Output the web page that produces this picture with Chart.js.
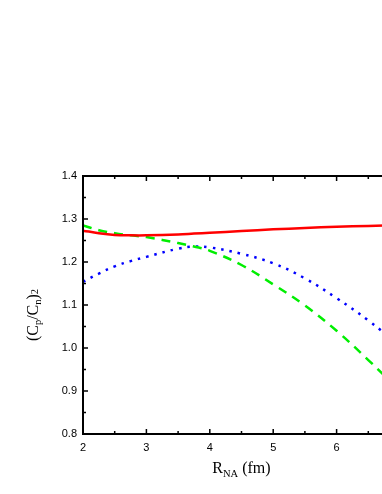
<!DOCTYPE html>
<html lang="en">

<head>
    <meta charset="UTF-8">
    <title>(Cp/Cn)^2 vs R_NA</title>
    <script src="https://cdn.jsdelivr.net/npm/chart.js"></script>
    <style>
        html, body { margin: 0; padding: 0; background: #fff; overflow: hidden; }
        canvas { display: block; }
    </style>
</head>

<body>
    <canvas id="ratioChart" width="420" height="494"></canvas>

    <script>
        // R_NA (fm)
        const rValues = [2.0, 2.25, 2.5, 2.75, 3.0, 3.5, 3.75, 4.0, 4.5, 5.0, 5.5, 6.0, 6.5, 7.0];
        // (Cp/Cn)^2 for the three curves
        const redValues   = [1.273, 1.267, 1.263, 1.262, 1.262, 1.264, 1.266, 1.268, 1.272, 1.276, 1.279, 1.282, 1.284, 1.286];
        const greenValues = [1.285, 1.274, 1.267, 1.262, 1.258, 1.244, 1.236, 1.226, 1.193, 1.148, 1.099, 1.040, 0.972, 0.900];
        const blueValues  = [1.154, 1.173, 1.190, 1.202, 1.212, 1.231, 1.236, 1.234, 1.219, 1.197, 1.162, 1.116, 1.064, 1.005];

        const xTicks = [2, 3, 4, 5, 6, 7];
        const yTicks = [0.8, 0.9, 1.0, 1.1, 1.2, 1.3, 1.4];

        function points(ys) {
            return rValues.map((x, i) => ({ x: x, y: ys[i] }));
        }

        // inward ticks on all four sides + top/right frame
        const frame = {
            id: 'frame',
            afterDraw(chart) {
                const { ctx, chartArea: a, scales: { x, y } } = chart;
                ctx.save();
                ctx.strokeStyle = '#000';
                ctx.lineWidth = 2;
                ctx.beginPath();
                ctx.moveTo(a.left, a.bottom);
                ctx.lineTo(a.left, a.top);
                ctx.lineTo(a.right, a.top);
                ctx.lineTo(a.right, a.bottom);
                ctx.lineTo(a.left, a.bottom);
                ctx.stroke();

                ctx.lineWidth = 1.5;
                ctx.beginPath();
                for (let i = 0; i < xTicks.length; i++) {
                    const v = xTicks[i];
                    let px = x.getPixelForValue(v);
                    ctx.moveTo(px, a.bottom); ctx.lineTo(px, a.bottom - 5);
                    ctx.moveTo(px, a.top); ctx.lineTo(px, a.top + 5);
                    if (i < xTicks.length - 1) {
                        px = x.getPixelForValue(v + 0.5);
                        ctx.moveTo(px, a.bottom); ctx.lineTo(px, a.bottom - 3);
                        ctx.moveTo(px, a.top); ctx.lineTo(px, a.top + 3);
                    }
                }
                for (let i = 0; i < yTicks.length; i++) {
                    const v = yTicks[i];
                    let py = y.getPixelForValue(v);
                    ctx.moveTo(a.left, py); ctx.lineTo(a.left + 5, py);
                    ctx.moveTo(a.right, py); ctx.lineTo(a.right - 5, py);
                    if (i < yTicks.length - 1) {
                        py = y.getPixelForValue(v + 0.05);
                        ctx.moveTo(a.left, py); ctx.lineTo(a.left + 3, py);
                        ctx.moveTo(a.right, py); ctx.lineTo(a.right - 3, py);
                    }
                }
                ctx.stroke();
                ctx.restore();
            }
        };

        // axis titles with sub/superscripts
        const axisTitles = {
            id: 'axisTitles',
            afterDraw(chart) {
                const { ctx, chartArea: a } = chart;
                const big = '16px "Liberation Serif", "Times New Roman", serif';
                const small = '10.5px "Liberation Serif", "Times New Roman", serif';
                ctx.save();
                ctx.fillStyle = '#000';
                ctx.textBaseline = 'alphabetic';
                ctx.textAlign = 'left';

                // parts: [text, font, baseline offset]
                function run(parts) {
                    let w = 0;
                    parts.forEach(p => { ctx.font = p[1]; w += ctx.measureText(p[0]).width; });
                    let cx = -w / 2;
                    parts.forEach(p => {
                        ctx.font = p[1];
                        ctx.fillText(p[0], cx, p[2]);
                        cx += ctx.measureText(p[0]).width;
                    });
                }

                ctx.save();
                ctx.translate((a.left + a.right) / 2, 473);
                run([['R', big, 0], ['NA', small, 4], [' (fm)', big, 0]]);
                ctx.restore();

                ctx.save();
                ctx.translate(38, (a.top + a.bottom) / 2 + 10);
                ctx.rotate(-Math.PI / 2);
                run([['(C', big, 0], ['p', small, 3], ['/C', big, 0], ['n', small, 3], [')', big, 0], ['2', small, 0]]);
                ctx.restore();

                ctx.restore();
            }
        };

        const tickFont = { family: '"Liberation Sans", Arial, sans-serif', size: 11 };

        new Chart(document.getElementById('ratioChart').getContext('2d'), {
            type: 'line',
            data: {
                datasets: [
                    {
                        data: points(redValues),
                        borderColor: '#ff0000',
                        borderWidth: 2.5,
                        pointRadius: 0,
                        tension: 0.4,
                        fill: false
                    },
                    {
                        data: points(greenValues),
                        borderColor: '#00ee00',
                        borderWidth: 2.5,
                        borderDash: [9, 7],
                        pointRadius: 0,
                        tension: 0.4,
                        fill: false
                    },
                    {
                        data: points(blueValues),
                        borderColor: '#0000ff',
                        borderWidth: 2.5,
                        borderDash: [2.5, 6],
                        pointRadius: 0,
                        tension: 0.4,
                        fill: false
                    }
                ]
            },
            options: {
                responsive: false,
                animation: false,
                devicePixelRatio: 1,
                layout: { padding: { top: 176, left: 0, right: 20, bottom: 0 } },
                plugins: {
                    legend: { display: false },
                    tooltip: { enabled: false },
                    title: { display: false }
                },
                scales: {
                    x: {
                        type: 'linear',
                        min: 2,
                        max: 7,
                        afterFit: s => { s.height = 60; },
                        afterBuildTicks: s => { s.ticks = xTicks.map(v => ({ value: v })); },
                        grid: { display: true, drawOnChartArea: false, drawTicks: false },
                        border: { display: true, color: '#000', width: 2 },
                        ticks: {
                            color: '#000',
                            font: tickFont,
                            padding: 7,
                            maxRotation: 0,
                            autoSkip: false,
                            callback: v => String(v)
                        }
                    },
                    y: {
                        min: 0.8,
                        max: 1.4,
                        afterFit: s => { s.width = 83; },
                        afterBuildTicks: s => { s.ticks = yTicks.map(v => ({ value: v })); },
                        grid: { display: true, drawOnChartArea: false, drawTicks: false },
                        border: { display: true, color: '#000', width: 2 },
                        ticks: {
                            color: '#000',
                            font: tickFont,
                            padding: 6,
                            autoSkip: false,
                            callback: v => Number(v).toFixed(1)
                        }
                    }
                }
            },
            plugins: [frame, axisTitles]
        });
    </script>
</body>

</html>
